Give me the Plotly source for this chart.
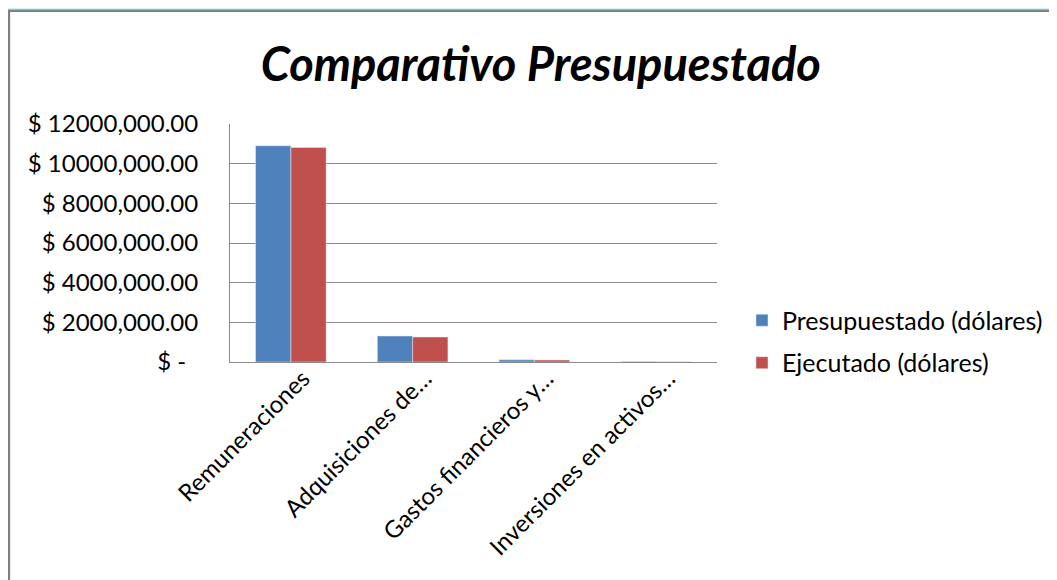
import plotly.graph_objects as go

categorias = ["Remuneraciones", "Adquisiciones de…", "Gastos financieros y…", "Inversiones en activos…"]
presupuestado = [10900000, 1310000, 110000, 20000]
ejecutado = [10820000, 1260000, 100000, 15000]

tick_vals = [0, 2000000, 4000000, 6000000, 8000000, 10000000, 12000000]
tick_text = ["$ -\u2002", "$ 2000,000.00", "$ 4000,000.00", "$ 6000,000.00",
             "$ 8000,000.00", "$ 10000,000.00", "$ 12000,000.00"]

fuente = "Lato"

fig = go.Figure()
fig.add_trace(go.Bar(x=categorias, y=presupuestado, name="Presupuestado (dólares)",
                     marker_color="#4F81BD", legendgroup="a"))
fig.add_trace(go.Bar(x=categorias, y=ejecutado, name="Ejecutado (dólares)",
                     marker_color="#C0504D", legendgroup="b"))

# marco blanco del grafico sobre el fondo celeste
fig.add_shape(type="rect", xref="paper", yref="paper", layer="below",
              x0=-0.454, x1=1.9, y0=-1.2, y1=1.476,
              fillcolor="white", line=dict(color="#808080", width=2.5))

fig.update_layout(
    width=1049, height=572,
    margin=dict(l=222, r=340, t=116, b=218),
    paper_bgcolor="#cbf5fb", plot_bgcolor="white",
    font=dict(family=fuente, color="black", size=24),
    title=dict(text="<b><i>Comparativo Presupuestado</i></b>", x=0.508, xanchor="center",
               y=0.902, yanchor="middle", font=dict(size=47, family=fuente)),
    barmode="group", bargap=0.42, bargroupgap=0,
    legend=dict(xref="container", yref="container", x=0.6997, y=0.417,
                xanchor="left", yanchor="middle",
                font=dict(size=25), tracegroupgap=7, bgcolor="rgba(0,0,0,0)"),
    showlegend=True,
)
fig.update_yaxes(range=[0, 12000000], tickvals=tick_vals, ticktext=tick_text,
                 showgrid=True, gridcolor="#8a8a8a", gridwidth=1,
                 showline=True, linecolor="#8a8a8a", linewidth=1,
                 ticklabelstandoff=26, zeroline=False, automargin=False)
fig.update_xaxes(tickangle=-45, showline=True, linecolor="#8a8a8a", linewidth=1,
                 ticklabelstandoff=-8, ticklabelshift=12, automargin=False)

fig.write_html("out.html")
